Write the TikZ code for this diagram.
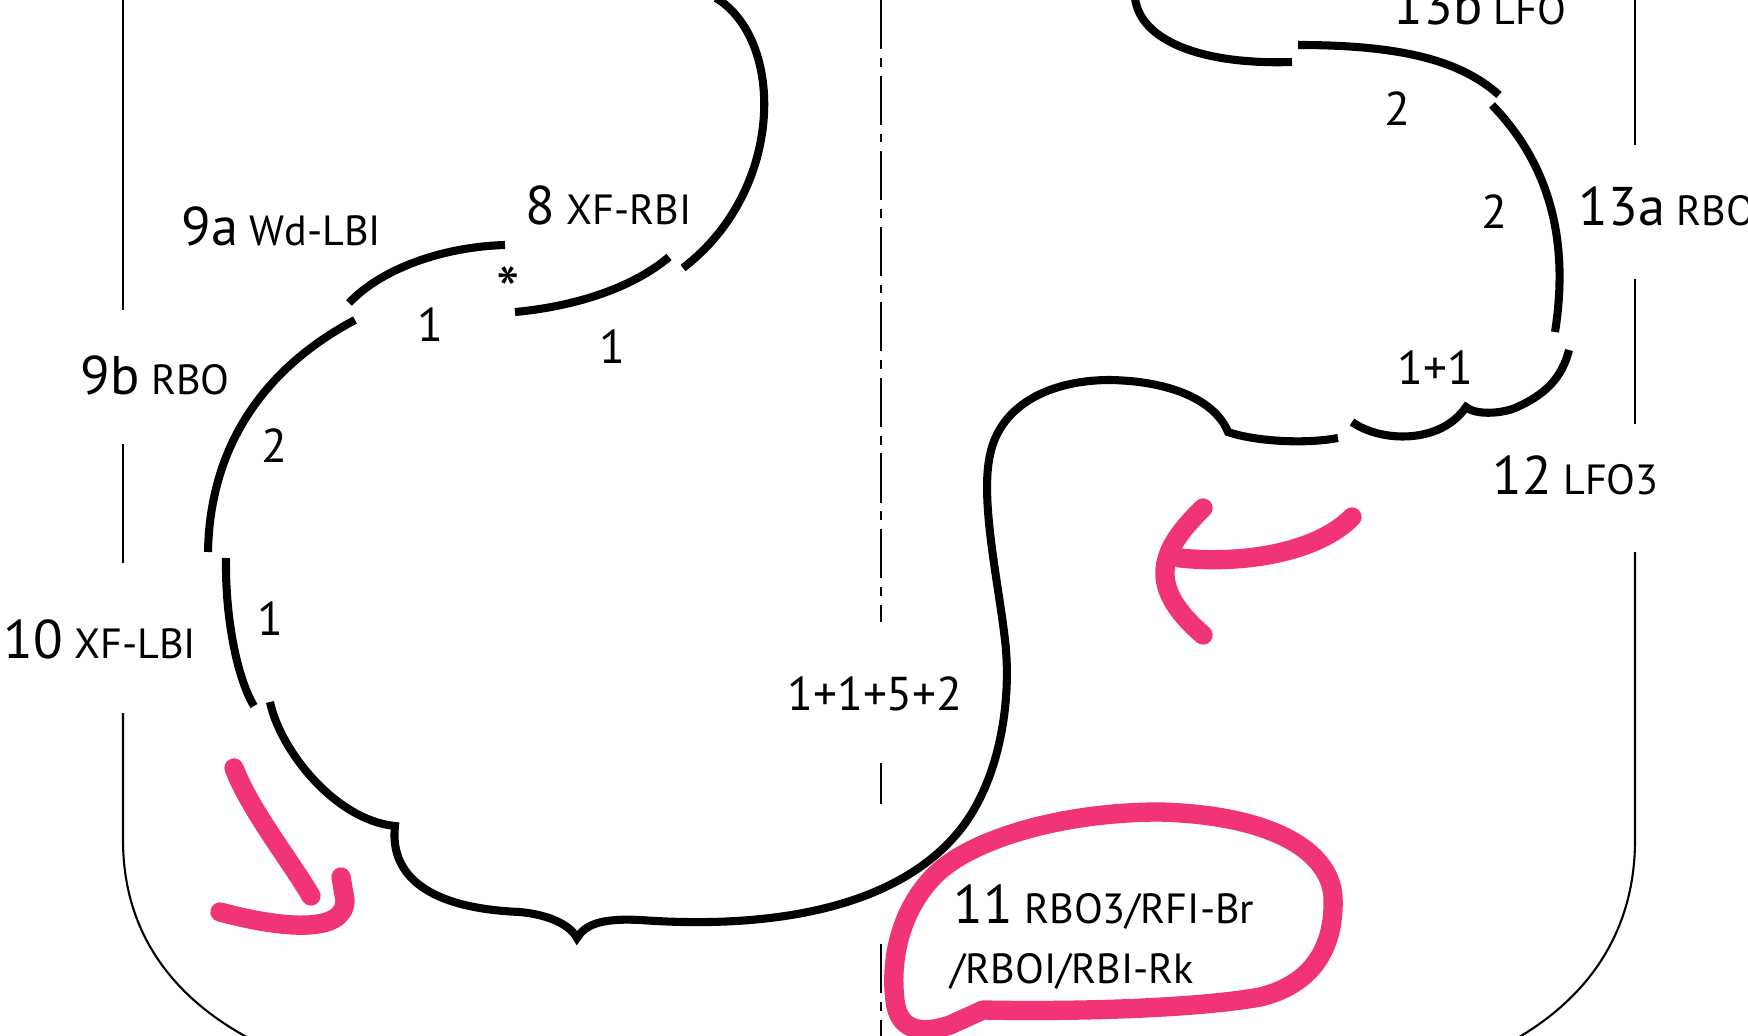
\documentclass[tikz,border=0pt]{standalone}
\usepackage{fontspec}
\setmainfont{PT Sans}
\usetikzlibrary{arrows}
\definecolor{penpink}{RGB}{241,52,120}
\newcommand{\stepno}[1]{{\fontsize{15.5}{15.5}\selectfont #1}}
\tikzstyle{edge1}=
[
	line width=2.3pt
	, draw=black
]
\tikzstyle{rink1}=
[
	line width=0.6pt
	, draw=black
]
\tikzstyle{centre1}=
[
	line width=0.7pt
	, draw=black
	, dash pattern=on 14pt off 2.5pt on 2.5pt off 2.5pt
]
\tikzstyle{marker1}=
[
	line width=5.5pt
	, draw=penpink
	, line cap=round
	, line join=round
]
\tikzstyle{label1}=
[
	inner sep=0
	, anchor=base west
	, font=\fontsize{12}{12}\selectfont
]
\tikzstyle{count1}=
[
	inner sep=0
	, anchor=center
	, font=\fontsize{13.5}{13.5}\selectfont
]

\begin{document}
\begin{tikzpicture}[x=0.1mm, y=-0.1mm]
\useasboundingbox (0,0) rectangle (1748,1036);
\clip (0,0) rectangle (1748,1036);

% rink and centre line
\draw[rink1] (123,0) -- (123,310);
\draw[rink1] (123,444) -- (123,563);
\draw[rink1] (123,713) -- (123,840) .. controls (123,930) and (170,1000) .. (262,1045);
\draw[rink1] (1635,0) -- (1635,145);
\draw[rink1] (1635,279) -- (1635,424);
\draw[rink1] (1635,552) -- (1635,840) .. controls (1635,930) and (1590,1000) .. (1505,1045);
\draw[centre1] (881,0) -- (881,622);
\draw[centre1] (881,763) -- (881,804);
\draw[centre1] (881,944) -- (881,1040);

% steps
\draw[edge1] (716,-2) .. controls (785,40) and (785,190) .. (683,268);
\draw[edge1] (669,257) .. controls (630,290) and (570,307) .. (515,312);
\draw[edge1] (505,245) .. controls (440,247) and (380,270) .. (349,303);
\draw[edge1] (355,320) .. controls (270,365) and (210,440) .. (208,552);
\draw[edge1] (226,558) .. controls (225,620) and (238,680) .. (254,706);
\draw[edge1] (270,702) .. controls (280,750) and (335,820) .. (395,826)
	.. controls (390,870) and (420,908) .. (520,912)
	.. controls (550,915) and (570,925) .. (577,938)
	.. controls (585,925) and (600,918) .. (640,920)
	.. controls (780,930) and (900,905) .. (960,830)
	.. controls (1000,780) and (1012,700) .. (1005,640)
	.. controls (998,580) and (980,500) .. (990,455)
	.. controls (1000,405) and (1050,380) .. (1110,380)
	.. controls (1170,381) and (1215,400) .. (1228,432)
	.. controls (1250,440) and (1300,445) .. (1338,438);
\draw[edge1] (1352,422) .. controls (1380,442) and (1440,445) .. (1466,407)
	.. controls (1475,415) and (1500,414) .. (1515,408)
	.. controls (1545,395) and (1562,378) .. (1569,350);
\draw[edge1] (1555,332) .. controls (1568,250) and (1555,170) .. (1492,105);
\draw[edge1] (1499,95) .. controls (1460,60) and (1400,45) .. (1298,45);
\draw[edge1] (1292,62) .. controls (1200,65) and (1140,40) .. (1135,-2);

% names of the steps
\node[label1] (l8) at (525,225) {\stepno{8} XF-RBI};
\node[label1] (l9a) at (181,246) {\stepno{9a} Wd-LBI};
\node[label1] (l9b) at (80,395) {\stepno{9b} RBO};
\node[label1] (l10) at (3,658) {\stepno{10} XF-LBI};
\node[label1] (l11a) at (953,923) {\stepno{11} RBO3/RFI-Br};
\node[label1] (l11b) at (950,983) {/RBOI/RBI-Rk};
\node[label1] (l12) at (1492,494) {\stepno{12} LFO3};
\node[label1] (l13a) at (1578,226) {\stepno{13a} RBO};
\node[label1] (l13b) at (1393,25) {\stepno{13b} LFO};

% beats
\node[count1] (c8) at (612,347) {1};
\node[count1] (c9a) at (430,325) {1};
\node[count1] (c9b) at (274,446) {2};
\node[count1] (c10) at (270,619) {1};
\node[count1] (c11) at (875,694) {1+1+5+2};
\node[count1] (c12) at (1435,368) {1+1};
\node[count1] (c13a) at (1494,212) {2};
\node[count1] (c13b) at (1397,109) {2};
\node[count1, font=\fontsize{19}{19}\selectfont] (star) at (508,291) {*};

% pen marks
\draw[marker1] (234,768) .. controls (250,810) and (290,860) .. (311,896);
\draw[marker1] (220,912) .. controls (280,928) and (345,935) .. (345,900) -- (341,877);
\draw[marker1] (1352,517) .. controls (1320,550) and (1250,565) .. (1180,558);
\draw[marker1] (1203,508) .. controls (1160,550) and (1145,585) .. (1203,635);
\draw[marker1] (983,1010) .. controls (1080,1012) and (1200,1008) .. (1260,997)
	.. controls (1310,985) and (1335,950) .. (1333,897)
	.. controls (1330,850) and (1270,815) .. (1160,812)
	.. controls (1060,812) and (970,840) .. (935,875)
	.. controls (900,910) and (890,960) .. (895,1000)
	.. controls (898,1030) and (920,1035) .. (950,1025) -- (983,1010);

\end{tikzpicture}
\end{document}
